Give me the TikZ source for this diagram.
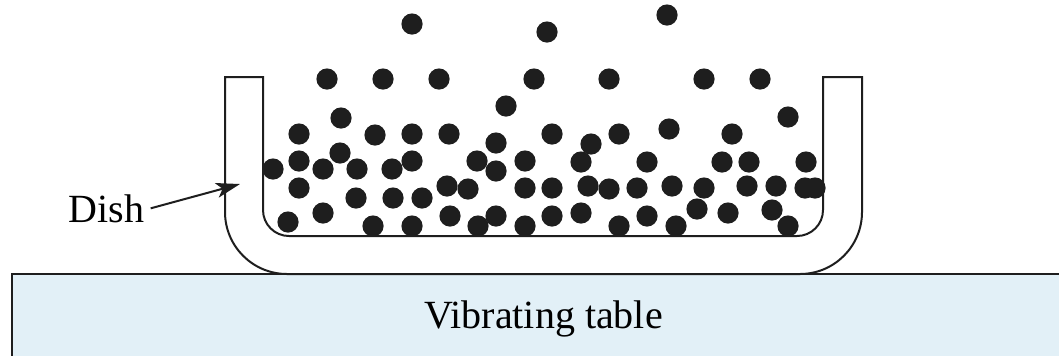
\documentclass[tikz,border=0pt]{standalone}
\usepackage{fontspec}
\setmainfont{Liberation Serif}
\usetikzlibrary{arrows.meta}
\definecolor{tablefill}{RGB}{226,240,247}
\definecolor{ink}{RGB}{30,30,30}
\tikzset{
  outline/.style={draw=ink, line width=1pt},
  tablebox/.style={draw=ink, line width=1.1pt, fill=tablefill},
  dishbody/.style={draw=ink, line width=1pt, fill=white},
  bead/.style={fill=ink},
  caption/.style={anchor=base, inner sep=3pt, font=\fontsize{20}{24}\selectfont},
  pointer/.style={draw=ink, line width=1pt, -{Stealth[length=12pt,width=7.5pt,inset=3pt]}}
}
\begin{document}
\begin{tikzpicture}[x=0.5pt,y=-0.5pt]
\clip (0,0) rectangle (1059,355);

% vibrating table
\draw[tablebox] (12,274) rectangle (1080,380);
\node[caption] (tablelabel) at (543.5,328) {Vibrating table};

% dish cross-section
\draw[dishbody] (225,77) -- (263,77) -- (263,210)
  .. controls (263,224.36) and (274.64,236) .. (289,236) -- (797,236)
  .. controls (811.36,236) and (823,224.36) .. (823,210) -- (823,77) -- (862,77) -- (862,212)
  .. controls (862,246.24) and (834.24,274) .. (800,274) -- (287,274)
  .. controls (252.76,274) and (225,246.24) .. (225,212) -- cycle;

% particles
\foreach \px/\py in {
  412/24, 547/32, 667/15,
  327/79, 383/79, 439/79, 534/79, 609/79, 704/79, 760/79,
  506/106, 788/117, 341/118, 669/129,
  299/134, 375/135, 412/134, 449/134, 552/134, 619/134, 732/134,
  496/143, 591/144,
  340/153,
  299/161, 412/161, 477/161, 525/161, 581/162, 647/162, 722/162, 749/162, 806/162,
  273/169, 323/169, 357/169, 392/169, 496/171,
  447/186, 588/186, 672/186, 747/186, 776/186,
  299/188, 468/189, 525/188, 552/188, 609/189, 637/188, 704/188, 805/188, 815/188,
  356/198, 393/198, 422/198,
  697/209, 772/210,
  323/213, 581/213, 728/213,
  450/216, 496/216, 552/216, 647/216,
  288/222,
  373/226, 412/226, 478/226, 525/226, 619/226, 676/226, 788/226}
  \fill[bead] (\px,\py) circle[radius=5.3pt];

% label with pointer to the dish wall
\node[caption] (dishlabel) at (106.5,222) {Dish};
\coordinate (dishwall) at (240,184);
\draw[pointer] (dishlabel.east) -- (dishwall);
\end{tikzpicture}
\end{document}
